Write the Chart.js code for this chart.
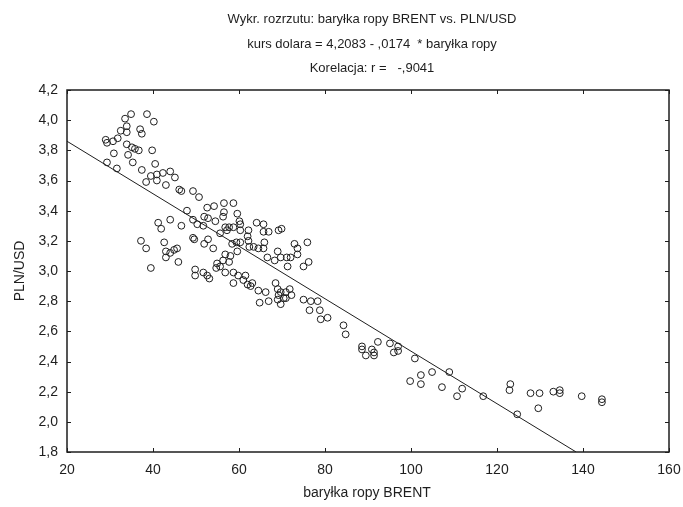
<!DOCTYPE html>
<html>
<head>
<meta charset="utf-8">
<script src="https://cdn.jsdelivr.net/npm/chart.js@4"></script>
<style>
  html, body { margin: 0; padding: 0; background: #fff; }
  #wrap { width: 683px; height: 507px; position: relative; }
</style>
</head>
<body>
<div id="wrap"><canvas id="scatter"></canvas></div>
<script>
// --- data ---
const brentUsd = [
  34.9, 33.5, 38.6, 40.2, 33.9, 32.5, 33.9, 37.0, 37.4, 29.0,
  29.3, 30.7, 31.8, 33.9, 35.1, 35.8, 36.7, 39.8, 30.9, 34.2,
  29.3, 31.6, 35.3, 40.5, 37.4, 38.4, 39.5, 40.9, 42.3, 40.9,
  44.0, 45.1, 43.0, 46.1, 46.6, 49.3, 50.7, 47.9, 52.6, 54.2,
  56.5, 58.7, 56.5, 59.6, 51.9, 52.8, 54.5, 56.3, 60.1, 49.3,
  50.3, 51.7, 56.8, 57.7, 58.7, 57.2, 55.6, 60.3, 60.3, 62.2,
  64.1, 65.7, 65.7, 66.9, 69.2, 69.9, 41.2, 41.9, 44.0, 46.6,
  49.3, 49.6, 52.8, 51.9, 54.0, 58.4, 59.4, 60.3, 62.0, 62.2,
  62.4, 63.4, 64.5, 65.7, 65.9, 56.8, 58.0, 59.6, 56.3, 57.7,
  54.9, 55.6, 54.7, 66.6, 68.3, 69.7, 71.1, 72.0, 69.0, 72.9,
  73.6, 75.9, 73.6, 71.3, 76.2, 75.0, 37.2, 38.4, 42.6, 43.0,
  44.0, 44.9, 45.6, 43.0, 45.9, 39.5, 49.8, 49.8, 51.7, 52.6,
  53.1, 56.8, 58.7, 59.8, 61.5, 58.7, 61.0, 62.0, 63.1, 62.7,
  64.5, 66.2, 68.5, 69.0, 69.7, 69.2, 70.9, 71.8, 72.2, 70.4,
  64.8, 66.9, 69.0, 69.7, 70.9, 75.0, 76.7, 78.3, 76.4, 78.8,
  79.0, 80.6, 84.3, 84.8, 88.6, 88.6, 89.5, 90.9, 91.4, 91.4,
  92.3, 95.1, 96.0, 97.0, 97.0, 100.9, 99.8, 102.3, 102.3, 104.9,
  108.9, 107.2, 110.7, 111.9, 116.8, 123.1, 122.9, 124.7, 127.8, 129.9,
  129.6, 133.1, 134.6, 134.6, 139.7, 144.4, 144.4
];
const plnUsd = [
  4.04, 4.01, 4.04, 3.99, 3.96, 3.93, 3.92, 3.94, 3.91, 3.87,
  3.85, 3.86, 3.88, 3.84, 3.82, 3.81, 3.80, 3.80, 3.78, 3.77,
  3.72, 3.68, 3.72, 3.71, 3.67, 3.59, 3.63, 3.64, 3.65, 3.60,
  3.66, 3.62, 3.57, 3.54, 3.53, 3.53, 3.49, 3.40, 3.42, 3.43,
  3.45, 3.45, 3.39, 3.38, 3.36, 3.35, 3.33, 3.36, 3.33, 3.34,
  3.31, 3.30, 3.29, 3.29, 3.29, 3.27, 3.25, 3.31, 3.27, 3.27,
  3.32, 3.31, 3.26, 3.26, 3.27, 3.28, 3.32, 3.28, 3.34, 3.30,
  3.22, 3.21, 3.21, 3.18, 3.15, 3.18, 3.19, 3.19, 3.23, 3.20,
  3.16, 3.16, 3.15, 3.15, 3.19, 3.11, 3.10, 3.13, 3.07, 3.06,
  3.05, 3.03, 3.02, 3.09, 3.07, 3.09, 3.09, 3.09, 3.13, 3.18,
  3.15, 3.19, 3.11, 3.03, 3.06, 3.03, 3.20, 3.15, 3.19, 3.13,
  3.12, 3.14, 3.15, 3.09, 3.06, 3.02, 3.01, 2.97, 2.99, 2.97,
  2.95, 2.99, 2.99, 2.97, 2.97, 2.92, 2.94, 2.91, 2.92, 2.90,
  2.87, 2.86, 2.92, 2.88, 2.86, 2.84, 2.86, 2.88, 2.84, 2.82,
  2.79, 2.80, 2.81, 2.78, 2.82, 2.81, 2.80, 2.80, 2.74, 2.74,
  2.68, 2.69, 2.64, 2.58, 2.50, 2.48, 2.44, 2.48, 2.46, 2.44,
  2.53, 2.52, 2.46, 2.50, 2.47, 2.42, 2.27, 2.31, 2.25, 2.33,
  2.33, 2.23, 2.17, 2.22, 2.17, 2.25, 2.21, 2.05, 2.19, 2.19,
  2.09, 2.20, 2.21, 2.19, 2.17, 2.15, 2.13
];
// fitted line from the chart heading
const fitIntercept = 4.2083;
const fitSlope = -0.0174;
const xTicks = [20, 40, 60, 80, 100, 120, 140, 160];
const yTicks = [1.8, 2.0, 2.2, 2.4, 2.6, 2.8, 3.0, 3.2, 3.4, 3.6, 3.8, 4.0, 4.2];
const titleLines = [
  'Wykr. rozrzutu: baryłka ropy BRENT vs. PLN/USD',
  'kurs dolara = 4,2083 - ,0174  * baryłka ropy',
  'Korelacja: r =   -,9041'
];
const xTitle = 'baryłka ropy BRENT';
const yTitle = 'PLN/USD';

const ink = '#1e1e1e';
const fontFamily = '"Liberation Sans", Arial, sans-serif';

const points = brentUsd.map((x, i) => ({ x: x, y: plnUsd[i] }));
const yMin = yTicks[0];
const xLineEnd = (yMin - fitIntercept) / fitSlope;
const fitLine = [
  { x: xTicks[0], y: fitIntercept + fitSlope * xTicks[0] },
  { x: xLineEnd, y: yMin }
];

// frame, inward tick marks and free text
const framePlugin = {
  id: 'frame',
  afterDraw(chart) {
    const ctx = chart.ctx;
    const a = chart.chartArea;
    const xs = chart.scales.x;
    const ys = chart.scales.y;
    ctx.save();
    ctx.strokeStyle = ink;
    ctx.lineWidth = 1.5;
    ctx.strokeRect(a.left, a.top, a.right - a.left, a.bottom - a.top);
    ctx.lineWidth = 1;
    xTicks.forEach(v => {
      const px = Math.round(xs.getPixelForValue(v)) + 0.5;
      ctx.beginPath();
      ctx.moveTo(px, a.bottom); ctx.lineTo(px, a.bottom - 4);
      ctx.moveTo(px, a.top); ctx.lineTo(px, a.top + 4);
      ctx.stroke();
    });
    yTicks.forEach(v => {
      const py = Math.round(ys.getPixelForValue(v)) + 0.5;
      ctx.beginPath();
      ctx.moveTo(a.left, py); ctx.lineTo(a.left + 4, py);
      ctx.moveTo(a.right, py); ctx.lineTo(a.right - 4, py);
      ctx.stroke();
    });

    ctx.fillStyle = ink;
    ctx.textAlign = 'center';
    ctx.textBaseline = 'middle';
    ctx.font = '13px ' + fontFamily;
    const titleY = [19, 44, 68];
    titleLines.forEach((t, i) => ctx.fillText(t, 372, titleY[i]));

    ctx.font = '14px ' + fontFamily;
    ctx.fillText(xTitle, 367, 493);
    ctx.translate(20, (a.top + a.bottom) / 2);
    ctx.rotate(-Math.PI / 2);
    ctx.fillText(yTitle, 0, 0);
    ctx.restore();
  }
};

new Chart(document.getElementById('scatter'), {
  type: 'scatter',
  data: {
    datasets: [
      {
        label: 'obserwacje',
        data: points,
        pointStyle: 'circle',
        pointRadius: 3.4,
        pointBorderWidth: 1,
        borderColor: ink,
        backgroundColor: 'rgba(0,0,0,0)'
      },
      {
        type: 'line',
        label: 'regresja',
        data: fitLine,
        borderColor: ink,
        borderWidth: 1,
        pointRadius: 0,
        fill: false
      }
    ]
  },
  options: {
    responsive: true,
    maintainAspectRatio: false,
    animation: false,
    events: [],
    layout: { padding: { left: 0, top: 90, right: 14, bottom: 0 } },
    plugins: {
      legend: { display: false },
      title: { display: false },
      tooltip: { enabled: false }
    },
    scales: {
      x: {
        type: 'linear',
        min: xTicks[0],
        max: xTicks[xTicks.length - 1],
        afterBuildTicks: s => { s.ticks = xTicks.map(v => ({ value: v })); },
        afterFit: s => { s.height = 55; s.paddingLeft = 0; s.paddingRight = 0; },
        grid: { display: false, drawTicks: false },
        border: { display: false },
        ticks: {
          color: ink,
          padding: 10,
          maxRotation: 0,
          font: { family: fontFamily, size: 14 },
          callback: v => String(v)
        }
      },
      y: {
        type: 'linear',
        min: yTicks[0],
        max: yTicks[yTicks.length - 1],
        afterBuildTicks: s => { s.ticks = yTicks.map(v => ({ value: v })); },
        afterFit: s => { s.width = 67; s.paddingTop = 0; s.paddingBottom = 0; },
        grid: { display: false, drawTicks: false },
        border: { display: false },
        ticks: {
          color: ink,
          padding: 9,
          font: { family: fontFamily, size: 14 },
          callback: v => Number(v).toFixed(1).replace('.', ',')
        }
      }
    }
  },
  plugins: [framePlugin]
});
</script>
</body>
</html>
